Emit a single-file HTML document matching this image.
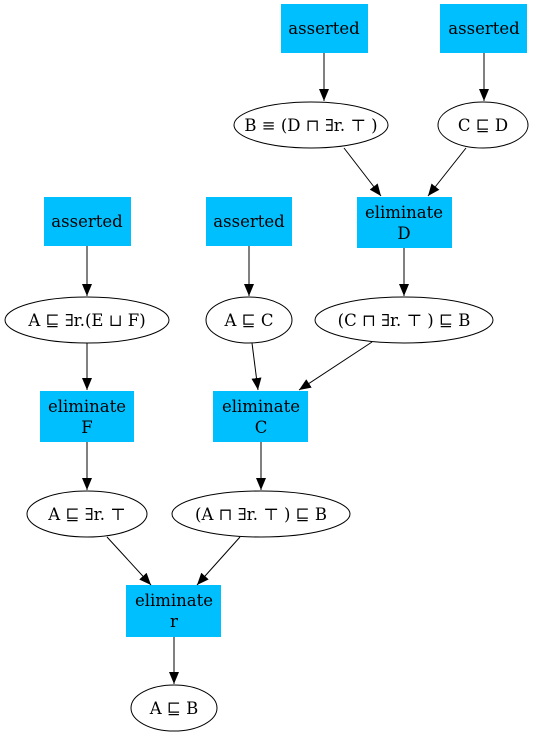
<!DOCTYPE html>
<html><head><meta charset="utf-8"><style>
html,body{margin:0;padding:0;background:#fff;}
svg{display:block;}
text{font-family:"DejaVu Serif","Liberation Serif",serif;font-size:16.5px;fill:#000;text-anchor:middle;}
</style></head><body>
<svg width="533" height="739" viewBox="0 0 533 739" xmlns="http://www.w3.org/2000/svg">
<defs><marker id="a" markerWidth="12" markerHeight="10" refX="12" refY="5" orient="auto" markerUnits="userSpaceOnUse"><path d="M0,0 L12,5 L0,10 Z" fill="#000"/></marker></defs>
<g fill="#00bfff">
<rect x="281" y="4" width="87" height="49"/>
<rect x="440" y="4" width="87" height="49"/>
<rect x="44" y="197" width="87" height="49"/>
<rect x="206" y="197" width="86" height="49"/>
<rect x="357" y="197" width="95" height="51"/>
<rect x="40" y="391" width="94" height="51"/>
<rect x="213" y="391" width="95" height="51"/>
<rect x="126" y="585" width="95" height="52"/>
</g>
<g fill="none" stroke="#000" stroke-width="1">
<ellipse cx="311" cy="125" rx="77" ry="23"/>
<ellipse cx="483" cy="125" rx="45" ry="23"/>
<ellipse cx="87" cy="320" rx="82" ry="23"/>
<ellipse cx="249" cy="320" rx="43" ry="23"/>
<ellipse cx="404" cy="320" rx="89" ry="23"/>
<ellipse cx="87" cy="514" rx="60" ry="23"/>
<ellipse cx="261" cy="514" rx="89" ry="23"/>
<ellipse cx="174" cy="708" rx="43" ry="23"/>
<g marker-end="url(#a)">
<line x1="324" y1="53" x2="324" y2="101"/>
<line x1="484" y1="53" x2="484" y2="101"/>
<line x1="344" y1="148" x2="381" y2="196"/>
<line x1="466" y1="148" x2="428" y2="196"/>
<line x1="87" y1="246" x2="87" y2="296"/>
<line x1="249" y1="246" x2="249" y2="296"/>
<line x1="404" y1="248" x2="404" y2="296"/>
<line x1="87" y1="343" x2="87" y2="390"/>
<line x1="252" y1="343" x2="258" y2="390"/>
<line x1="372" y1="342" x2="299" y2="390"/>
<line x1="87" y1="442" x2="87" y2="490"/>
<line x1="261" y1="442" x2="261" y2="490"/>
<line x1="107" y1="537" x2="151" y2="585"/>
<line x1="240" y1="537" x2="197" y2="585"/>
<line x1="174" y1="637" x2="174" y2="684"/>
</g>
</g>
<text x="324" y="34">asserted</text>
<text x="484" y="34">asserted</text>
<text x="87" y="227">asserted</text>
<text x="249" y="227">asserted</text>
<text x="404" y="218">eliminate</text><text x="404" y="239">D</text>
<text x="87" y="412">eliminate</text><text x="87" y="433">F</text>
<text x="261" y="412">eliminate</text><text x="261" y="433">C</text>
<text x="174" y="606">eliminate</text><text x="174" y="627">r</text>
<text x="311" y="131">B ≡ (D ⊓ ∃r. ⊤ )</text>
<text x="483" y="131">C ⊑ D</text>
<text x="87" y="326">A ⊑ ∃r.(E ⊔ F)</text>
<text x="249" y="326">A ⊑ C</text>
<text x="404" y="326">(C ⊓ ∃r. ⊤ ) ⊑ B</text>
<text x="87" y="520">A ⊑ ∃r. ⊤</text>
<text x="261" y="520">(A ⊓ ∃r. ⊤ ) ⊑ B</text>
<text x="174" y="714">A ⊑ B</text>
</svg>
</body></html>
